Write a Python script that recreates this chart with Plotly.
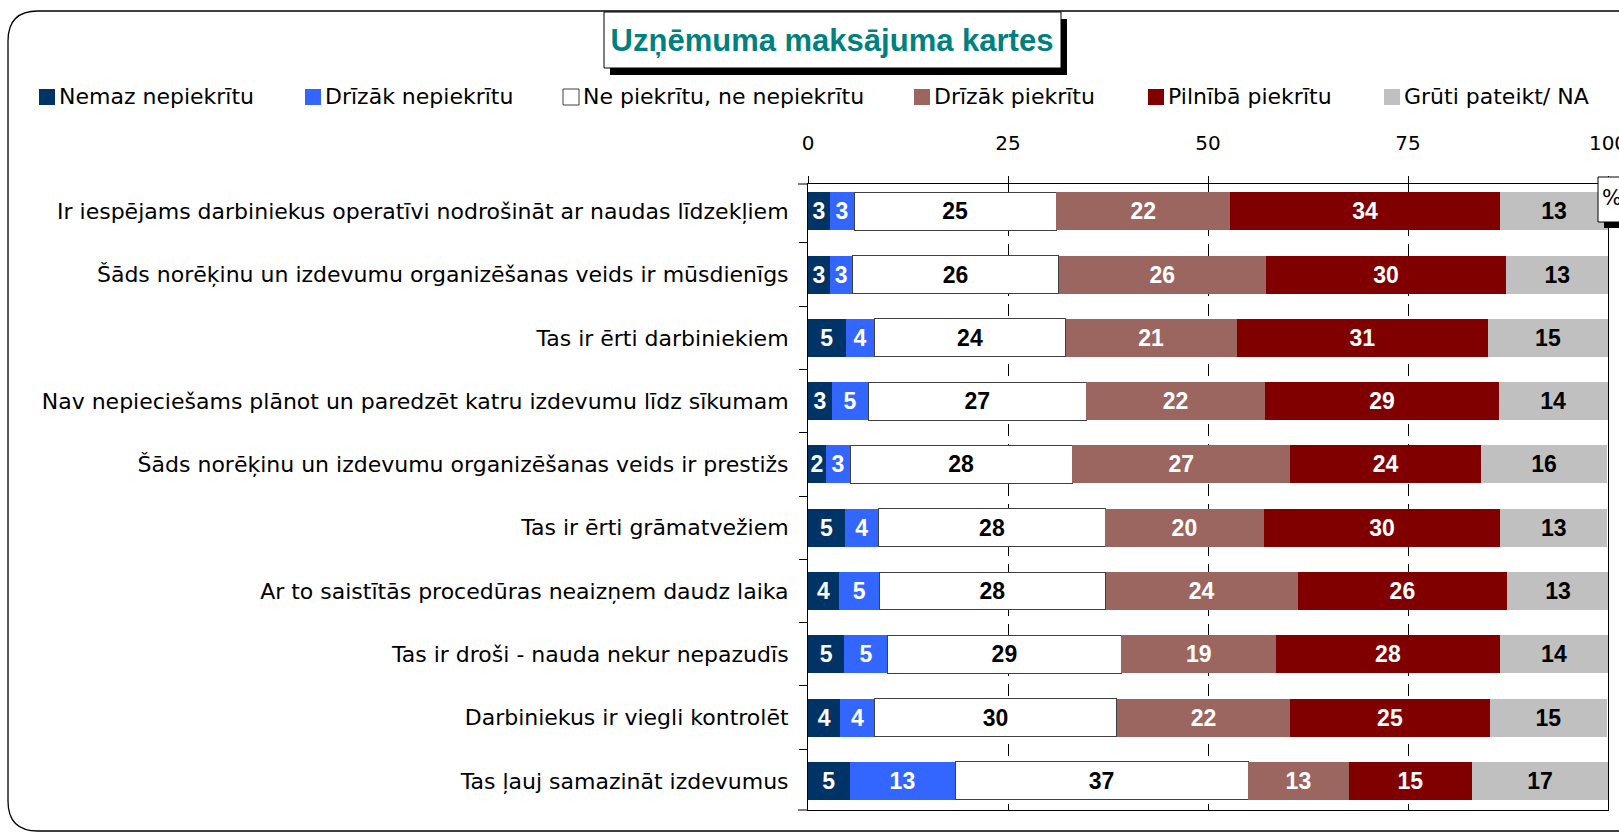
import plotly.graph_objects as go

categories = [
    "Ir iespējams darbiniekus operatīvi nodrošināt ar naudas līdzekļiem",
    "Šāds norēķinu un izdevumu organizēšanas veids ir mūsdienīgs",
    "Tas ir ērti darbiniekiem",
    "Nav nepieciešams plānot un paredzēt katru izdevumu līdz sīkumam",
    "Šāds norēķinu un izdevumu organizēšanas veids ir prestižs",
    "Tas ir ērti grāmatvežiem",
    "Ar to saistītās procedūras neaizņem daudz laika",
    "Tas ir droši - nauda nekur nepazudīs",
    "Darbiniekus ir viegli kontrolēt",
    "Tas ļauj samazināt izdevumus",
]

series_names = [
    "Nemaz nepiekrītu",
    "Drīzāk nepiekrītu",
    "Ne piekrītu, ne nepiekrītu",
    "Drīzāk piekrītu",
    "Pilnībā piekrītu",
    "Grūti pateikt/ NA",
]

nemaz = [2.75, 2.75, 4.7, 2.95, 2.2, 4.6, 3.9, 4.55, 4.05, 5.2]
drizak_ne = [3.0, 2.8, 3.6, 4.6, 3.1, 4.25, 5.0, 5.4, 4.25, 13.2]
ne_ne = [25.3, 25.8, 23.9, 27.2, 27.7, 28.3, 28.3, 29.2, 30.3, 36.6]
drizak_pie = [21.7, 25.85, 21.4, 22.4, 27.3, 19.8, 24.0, 19.4, 21.7, 12.6]
pilniba = [33.8, 30.1, 31.4, 29.2, 23.8, 29.6, 26.2, 27.9, 24.9, 15.4]
gruti = [13.4, 12.7, 15.0, 13.6, 15.8, 13.35, 12.7, 13.6, 14.7, 17.0]

x_ticks = [0, 25, 50, 75, 100]

series_values = [nemaz, drizak_ne, ne_ne, drizak_pie, pilniba, gruti]
colors = ["#003366", "#3366FF", "#FFFFFF", "#9C6660", "#800000", "#C0C0C0"]
text_colors = ["white", "white", "black", "white", "white", "black"]

W, H = 1619, 833
ML, MR, MT, MB = 808, 11, 184, 23
PW, PH = W - ML - MR, H - MT - MB


def px(x):
    return (x - ML) / PW


def py(y):
    return (H - MB - y) / PH


LABEL_FONT = "DejaVu Sans"
BAR_FONT = "Liberation Sans, Arial"

fig = go.Figure()
for name, vals, col, tcol in zip(series_names, series_values, colors, text_colors):
    is_white = col == "#FFFFFF"
    fig.add_trace(go.Bar(
        y=categories, x=vals, name=name, orientation="h",
        marker=dict(color=col,
                    line=dict(color="#404040" if is_white else col,
                              width=1 if is_white else 0)),
        texttemplate="%{x:.0f}", textposition="inside",
        insidetextanchor="middle", textangle=0,
        textfont=dict(family=BAR_FONT, size=23, color=tcol, weight="bold"),
        hoverinfo="skip", showlegend=False,
    ))

shapes = []
# outer rounded frame
xl, xr = px(8), px(1660)
yt, yb = py(11), py(831)
rx, ry = 30 / PW, 30 / PH
path = (f"M {xr},{yt} L {xl+rx},{yt} Q {xl},{yt} {xl},{yt-ry} "
        f"L {xl},{yb+ry} Q {xl},{yb} {xl+rx},{yb} L {xr},{yb}")
shapes.append(dict(type="path", path=path, xref="paper", yref="paper",
                   line=dict(color="black", width=1.3), layer="below"))
# short axis-line extensions to the left of the plot frame
for yy in (184, 810):
    shapes.append(dict(type="line", xref="paper", yref="paper",
                       x0=px(798), x1=px(808), y0=py(yy), y1=py(yy),
                       line=dict(color="black", width=1)))
# title box with shadow
shapes.append(dict(type="rect", xref="paper", yref="paper",
                   x0=px(610), x1=px(1067), y0=py(19), y1=py(75),
                   fillcolor="black", line=dict(width=0)))
shapes.append(dict(type="rect", xref="paper", yref="paper",
                   x0=px(604), x1=px(1061), y0=py(12), y1=py(68),
                   fillcolor="white", line=dict(color="black", width=1)))
# % box with shadow
shapes.append(dict(type="rect", xref="paper", yref="paper",
                   x0=px(1604), x1=px(1660), y0=py(183), y1=py(228),
                   fillcolor="black", line=dict(width=0)))
shapes.append(dict(type="rect", xref="paper", yref="paper",
                   x0=px(1598), x1=px(1660), y0=py(177), y1=py(222),
                   fillcolor="white", line=dict(color="black", width=1)))

annotations = [
    dict(text="%", xref="paper", yref="paper", x=px(1600), y=py(198),
         xanchor="left", yanchor="middle", showarrow=False,
         font=dict(family=LABEL_FONT, size=21, color="black")),
]

# legend (drawn manually in a single row, as in the reference)
legend_left = [39, 305, 563, 914, 1148, 1384]
LEG_Y = 97
for name, col, lx in zip(series_names, colors, legend_left):
    is_white = col == "#FFFFFF"
    shapes.append(dict(type="rect", xref="paper", yref="paper",
                       x0=px(lx), x1=px(lx + 16),
                       y0=py(LEG_Y - 8), y1=py(LEG_Y + 8),
                       fillcolor=col,
                       line=dict(color="#404040" if is_white else col,
                                 width=1 if is_white else 0)))
    annotations.append(dict(text=name, xref="paper", yref="paper",
                            x=px(lx + 18), y=py(LEG_Y), xanchor="left",
                            yanchor="middle", showarrow=False,
                            font=dict(family=LABEL_FONT, size=22,
                                      color="black")))

fig.update_layout(
    width=W, height=H,
    margin=dict(l=ML, r=MR, t=MT, b=MB, autoexpand=False),
    paper_bgcolor="white", plot_bgcolor="white",
    barmode="stack", bargap=0.4, showlegend=False,
    title=dict(text="<b>Uzņēmuma maksājuma kartes</b>", xref="container",
               yref="container", x=832 / W, y=1 - 40 / H,
               xanchor="center", yanchor="middle",
               font=dict(family="Liberation Sans, Arial", size=31,
                         color="#008080")),
    xaxis=dict(side="top", range=[0, 100], tickvals=x_ticks,
               ticks="outside", ticklen=7, tickcolor="black",
               showline=True, linecolor="black", linewidth=1, mirror=True,
               showgrid=True, gridcolor="black", gridwidth=1,
               griddash="12px,8px", zeroline=False,
               tickfont=dict(family=LABEL_FONT, size=20, color="black"),
               ticklabelstandoff=18, ticklabeloverflow="allow",
               automargin=False, fixedrange=True),
    yaxis=dict(autorange=False, range=[9.46, -0.43], type="category",
               ticks="outside", ticklen=8, tickcolor="black",
               tickson="boundaries",
               showline=True, linecolor="black", linewidth=1, mirror=True,
               showgrid=False,
               tickfont=dict(family=LABEL_FONT, size=22, color="black"),
               ticklabelstandoff=14, automargin=False, fixedrange=True),
    uniformtext=dict(minsize=23, mode="show"),
    shapes=shapes, annotations=annotations,
)

fig.write_html("out.html", config={"displayModeBar": False},
               post_script="document.body.style.margin='0';"
                           "document.body.style.overflow='hidden';")
